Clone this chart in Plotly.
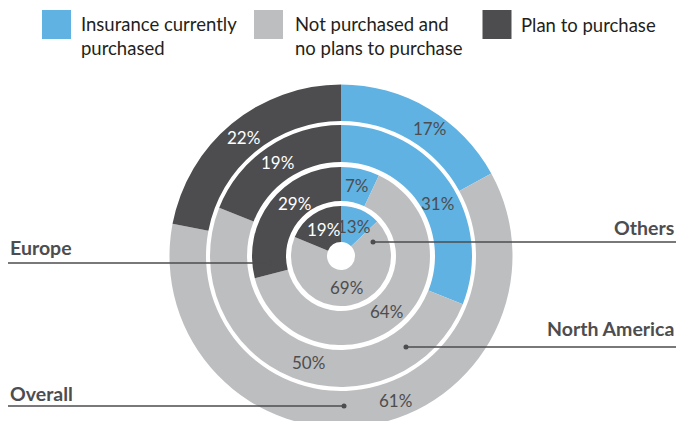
import math
import plotly.graph_objects as go

# ---- data ----
segments = ["Insurance currently purchased", "Not purchased and no plans to purchase", "Plan to purchase"]
legend_labels = ["Insurance currently<br>purchased", "Not purchased and<br>no plans to purchase", "Plan to purchase"]
rings = ["Others", "Europe", "North America", "Overall"]
others = [13, 69, 19]
europe = [7, 64, 29]
north_america = [31, 50, 19]
overall = [17, 61, 22]

# ---- style / layout (reference pixel space) ----
colors = ["#60B2E3", "#BDBEC0", "#4D4D4F"]
text_colors = ["#4D4D4F", "#4D4D4F", "#FFFFFF"]
W, H = 678, 428
CX, CY = 341, 256
radii = [(14, 50), (55, 89), (94, 131), (135, 171.5)]
FONT = "Lato"
# hand tweaks of label placement: (ring, segment) -> (angle shift deg, radius)
label_tweak = {
    (3, 0): (4, 155), (3, 1): (-11.6, 154),
    (2, 0): (5.5, 110), (2, 1): (-4.6, 111),
    (1, 2): (11, 70),
}


def px(x):
    return x / W


def py(y):
    return 1 - y / H


fig = go.Figure()
annotations = []
shapes = []
all_vals = [others, europe, north_america, overall]
for ri, (name, vals, (rin, rout)) in enumerate(zip(rings, all_vals, radii)):
    fig.add_trace(go.Pie(
        labels=segments, values=vals, name=name, sort=False,
        direction="clockwise", rotation=0, hole=rin / rout,
        domain=dict(x=[(CX - rout) / W, (CX + rout) / W],
                    y=[(H - CY - rout) / H, (H - CY + rout) / H]),
        marker=dict(colors=colors, line=dict(width=0)),
        textinfo="none",
        showlegend=False, hoverinfo="skip",
    ))
    # percentage labels at slice mid-angles
    total = sum(vals)
    cum = 0
    for si, v in enumerate(vals):
        mid = (cum + v / 2) / total * 360
        cum += v
        r = (rin + rout) / 2
        if (ri, si) in label_tweak:
            d, r = label_tweak[(ri, si)]
            mid += d
        a = math.radians(mid)
        x = CX + r * math.sin(a)
        y = CY - r * math.cos(a)
        annotations.append(dict(text=f"{v}%", xref="paper", yref="paper",
                                x=px(x), y=py(y), xanchor="center", yanchor="middle",
                                showarrow=False,
                                font=dict(family=FONT, size=17, color=text_colors[si])))

# legend
sq_x = [42, 254, 482.5]
txt_x = [79, 293, 519]
for i, lab in enumerate(legend_labels):
    shapes.append(dict(type="rect", xref="paper", yref="paper",
                       x0=px(sq_x[i]), x1=px(sq_x[i] + 29), y0=py(10), y1=py(39),
                       fillcolor=colors[i], line=dict(width=0), layer="above"))
    two = "<br>" in lab
    annotations.append(dict(text=lab, xref="paper", yref="paper",
                            x=px(txt_x[i]), y=py(36 if two else 25),
                            xanchor="left", yanchor="middle", align="left", showarrow=False,
                            font=dict(family=FONT, size=18.5, color="#231F20")))

# ring labels with leader lines
label_specs = [
    # text, text x, text y, anchor, line x0, line x1, line y, dot x
    ("Others", 676, 227.5, "right", 373, 676, 242, 373),
    ("Europe", 8, 247, "left", 8, 269, 263, 269),
    ("North America", 676, 328.5, "right", 406, 676, 347, 406),
    ("Overall", 8, 393, "left", 8, 344, 406, 344),
]
for text, tx, ty, anc, lx0, lx1, ly, dx in label_specs:
    annotations.append(dict(text=f"<b>{text}</b>", xref="paper", yref="paper",
                            x=px(tx), y=py(ty), xanchor=anc, yanchor="middle",
                            showarrow=False,
                            font=dict(family=FONT, size=19.5, color="#4D4D4F")))
    shapes.append(dict(type="line", xref="paper", yref="paper",
                       x0=px(lx0), x1=px(lx1), y0=py(ly), y1=py(ly),
                       line=dict(color="#4D4D4F", width=1.5), layer="above"))
    shapes.append(dict(type="circle", xref="paper", yref="paper",
                       x0=px(dx - 2.5), x1=px(dx + 2.5), y0=py(ly - 2.5), y1=py(ly + 2.5),
                       fillcolor="#4D4D4F", line=dict(width=0), layer="above"))

fig.update_layout(
    width=W, height=H,
    margin=dict(l=0, r=0, t=0, b=0),
    paper_bgcolor="white", plot_bgcolor="white",
    shapes=shapes, annotations=annotations,
    showlegend=False,
)

fig.write_html("out.html", config={"displayModeBar": False},
               post_script="document.body.style.margin='0px';document.body.style.overflow='hidden';")
